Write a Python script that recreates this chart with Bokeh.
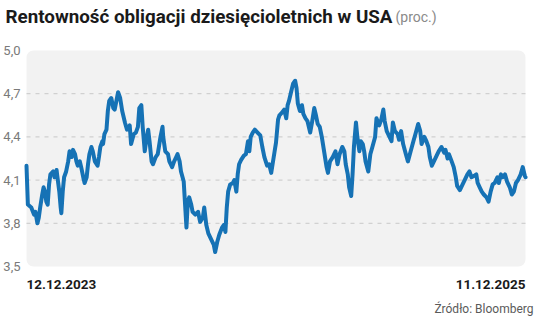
import datetime as dt
from bokeh.plotting import figure
from bokeh.models import Range1d, BoxAnnotation, Label, ColumnDataSource
from bokeh.core.properties import value
from bokeh.embed import file_html
from bokeh.resources import INLINE

# ---------------- data ----------------
start_date = dt.datetime(2023, 12, 12)
end_date = dt.datetime(2025, 12, 11)

day_offsets = [
    0, 2, 7, 11, 13, 16, 18, 20, 23, 25, 27, 29, 31, 33, 35, 39, 41, 44, 45, 48,
    50, 51, 53, 55, 58, 61, 63, 66, 68, 71, 73, 75, 78, 80, 83, 85, 88, 90, 92, 95,
    97, 100, 104, 106, 108, 111, 112, 114, 117, 119, 121, 124, 127, 129, 134, 137, 140, 144, 147, 151,
    153, 157, 160, 163, 165, 168, 170, 173, 175, 178, 180, 183, 185, 189, 192, 196, 199, 200, 203, 207,
    209, 213, 216, 219, 221, 224, 226, 230, 232, 234, 236, 238, 241, 243, 247, 251, 254, 258, 260, 263,
    266, 270, 274, 276, 279, 282, 286, 289, 291, 293, 295, 298, 302, 304, 307, 309, 311, 314, 318, 321,
    324, 326, 328, 331, 334, 338, 342, 345, 348, 352, 355, 358, 360, 363, 365, 368, 370, 374, 377, 380,
    382, 384, 387, 390, 393, 395, 397, 400, 403, 405, 408, 411, 415, 418, 421, 423, 426, 429, 432, 436,
    439, 441, 444, 448, 452, 455, 458, 462, 465, 467, 470, 472, 475, 477, 479, 482, 484, 487, 489, 492,
    494, 496, 500, 503, 506, 510, 512, 516, 519, 522, 524, 527, 530, 534, 536, 539, 543, 545, 548, 551,
    555, 558, 562, 566, 569, 573, 576, 578, 582, 585, 588, 590, 593, 596, 600, 603, 607, 611, 613, 616,
    618, 622, 625, 628, 630, 634, 638, 641, 645, 648, 651, 655, 658, 660, 663, 666, 669, 673, 676, 679,
    682, 685, 689, 691, 694, 697, 700, 703, 707, 710, 713, 716, 719, 723, 726, 729, 730,
]

yields = [
    4.20, 3.93, 3.91, 3.86, 3.88, 3.80, 3.84, 3.91, 4.00, 4.05, 4.02, 3.95, 3.93, 4.07, 4.14, 4.16, 4.12, 4.17, 4.13, 4.02,
    3.91, 3.87, 4.02, 4.12, 4.16, 4.23, 4.30, 4.26, 4.31, 4.28, 4.23, 4.20, 4.23, 4.19, 4.12, 4.08, 4.12, 4.21, 4.28, 4.33,
    4.30, 4.23, 4.20, 4.26, 4.33, 4.37, 4.35, 4.42, 4.45, 4.58, 4.65, 4.67, 4.60, 4.59, 4.71, 4.67, 4.58, 4.50, 4.45, 4.48,
    4.35, 4.42, 4.43, 4.47, 4.60, 4.62, 4.47, 4.30, 4.37, 4.45, 4.37, 4.23, 4.21, 4.26, 4.28, 4.40, 4.47, 4.40, 4.30, 4.28,
    4.23, 4.19, 4.23, 4.26, 4.28, 4.23, 4.16, 4.09, 3.93, 3.77, 3.95, 3.98, 3.93, 3.88, 3.86, 3.88, 3.81, 3.84, 3.91, 3.79,
    3.73, 3.69, 3.65, 3.60, 3.67, 3.72, 3.77, 3.79, 3.74, 3.91, 4.02, 4.07, 4.08, 4.10, 4.02, 4.14, 4.21, 4.24, 4.27, 4.28,
    4.37, 4.30, 4.40, 4.43, 4.45, 4.43, 4.41, 4.33, 4.26, 4.20, 4.21, 4.15, 4.21, 4.30, 4.36, 4.52, 4.55, 4.57, 4.59, 4.53,
    4.62, 4.65, 4.71, 4.77, 4.79, 4.74, 4.63, 4.58, 4.62, 4.56, 4.53, 4.51, 4.43, 4.51, 4.60, 4.56, 4.49, 4.47, 4.40, 4.28,
    4.19, 4.15, 4.23, 4.26, 4.30, 4.21, 4.28, 4.33, 4.30, 4.21, 4.14, 4.05, 3.99, 4.14, 4.33, 4.50, 4.40, 4.30, 4.37, 4.35,
    4.30, 4.23, 4.16, 4.28, 4.33, 4.40, 4.53, 4.48, 4.52, 4.59, 4.51, 4.44, 4.41, 4.37, 4.50, 4.44, 4.42, 4.38, 4.44, 4.35,
    4.28, 4.23, 4.30, 4.37, 4.42, 4.49, 4.44, 4.35, 4.40, 4.37, 4.33, 4.26, 4.20, 4.23, 4.27, 4.30, 4.33, 4.29, 4.31, 4.25,
    4.28, 4.23, 4.19, 4.12, 4.06, 4.03, 4.07, 4.10, 4.14, 4.16, 4.12, 4.13, 4.14, 4.08, 4.05, 4.02, 4.00, 3.98, 3.95, 4.02,
    4.07, 4.08, 4.12, 4.08, 4.14, 4.12, 4.14, 4.09, 4.05, 4.00, 4.02, 4.08, 4.10, 4.14, 4.19, 4.13, 4.12,
]

y_ticks = [3.5, 3.8, 4.1, 4.4, 4.7, 5.0]
y_tick_labels = ["3,5", "3,8", "4,1", "4,4", "4,7", "5,0"]
grid_ticks = [3.8, 4.1, 4.4, 4.7]
x_labels = ["12.12.2023", "11.12.2025"]
title_text = "Rentowność obligacji dziesięcioletnich w USA"
unit_text = "(proc.)"
source_text = "Źródło: Bloomberg"

# ---------------- layout (pixels) ----------------
W, H = 536, 317
PLOT_L, PLOT_R = 26, 525      # data area, canvas px
PLOT_T, PLOT_B = 50, 266

days_total = (end_date - start_date).total_seconds() / 86400.0
px_per_day = (PLOT_R - PLOT_L) / days_total
y_lo, y_hi = y_ticks[0], y_ticks[-1]
val_per_px = (y_hi - y_lo) / (PLOT_B - PLOT_T)

x_range = Range1d(start_date - dt.timedelta(days=PLOT_L / px_per_day),
                  end_date + dt.timedelta(days=(W - PLOT_R) / px_per_day))
y_range = Range1d(y_lo - (H - PLOT_B) * val_per_px, y_hi + PLOT_T * val_per_px)

dates = [start_date + dt.timedelta(days=d) for d in day_offsets]
src = ColumnDataSource(data=dict(date=dates, value=yields))

p = figure(width=W, height=H, output_backend="svg", toolbar_location=None,
           x_axis_type="datetime", x_range=x_range, y_range=y_range, min_border=0)
p.axis.visible = False
p.grid.visible = False
p.outline_line_color = None
p.background_fill_color = "white"
p.border_fill_color = "white"

# rounded light-grey panel behind the data
p.add_layout(BoxAnnotation(left=start_date, right=end_date, bottom=y_lo, top=y_hi,
                           fill_color="#f2f2f2", fill_alpha=1.0, line_color=None,
                           border_radius=7, level="image"))

# dashed horizontal grid lines
p.segment(x0=[start_date] * len(grid_ticks), x1=[end_date] * len(grid_ticks),
          y0=grid_ticks, y1=grid_ticks, line_color="#c8c8c8", line_dash="4 5",
          line_width=1)

# y tick labels
p.text(x=[start_date] * len(y_ticks), y=y_ticks, text=y_tick_labels,
       x_offset=-6, text_align="right", text_baseline="middle",
       text_font=value("Roboto"), text_font_size="13px", text_color="#7a7a7a")

# the series
p.line("date", "value", source=src, line_color="#1672b5", line_width=4,
       line_join="round", line_cap="round")

# texts (screen units: origin at bottom-left of canvas)
def lab(x, y_top, text, size, color, bold=False, align="left"):
    p.add_layout(Label(x=x, y=H - y_top, x_units="screen", y_units="screen", text=text,
                       text_font="Roboto", text_font_style="bold" if bold else "normal",
                       text_font_size=size, text_color=color,
                       text_baseline="alphabetic", text_align=align))

lab(5, 16, title_text, "18.8px", "#1a1a1a", bold=True)
lab(395, 16, unit_text, "14px", "#8a8a8a")
lab(PLOT_L, 284, x_labels[0], "13.5px", "#1a1a1a", bold=True)
lab(PLOT_R, 284, x_labels[1], "13.5px", "#1a1a1a", bold=True, align="right")
lab(533, 308, source_text, "12px", "#5a5a5a", align="right")

open("out.html", "w").write(file_html(p, INLINE))
